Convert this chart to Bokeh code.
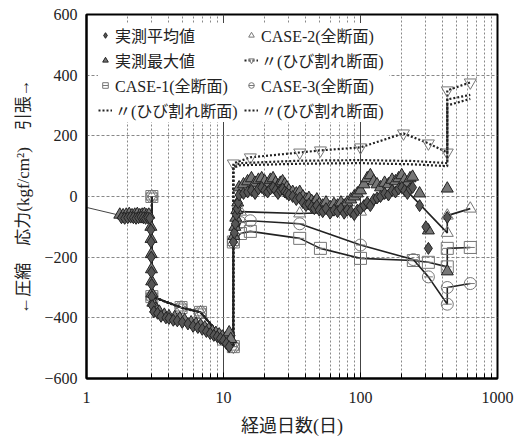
from bokeh.plotting import figure
from bokeh.models import FixedTicker, Legend, LegendItem, PrintfTickFormatter
from bokeh.embed import file_html
from bokeh.resources import INLINE

# ---------------- data ----------------
pre_x = [1.0, 1.75]
pre_y = [-36, -62]

avg_x = [1.8, 1.9, 2.0, 2.1, 2.2, 2.3, 2.4, 2.5, 2.6, 2.7, 2.8, 2.9,
         2.95, 2.96, 2.97, 2.98, 2.99, 3.0, 3.02,
         3.1, 3.3, 3.5, 3.8, 4.0, 4.3, 4.6, 5.0, 5.5, 6.0, 6.5, 7.0, 7.5, 8.0, 8.5, 9.0, 9.5, 10.0, 10.5, 11.0,
         11.8, 12.0, 12.2, 12.4, 12.6, 12.8,
         13, 14, 15, 16, 17, 18, 19, 20, 21, 22, 23, 24, 25, 26, 27, 28, 29, 30, 32, 34, 36, 38, 40, 42, 44,
         46, 48, 50, 53, 56, 60, 64, 68, 72, 76, 80, 85, 90, 95, 100, 106, 112, 118, 125, 132, 140, 150, 160,
         170, 180, 190, 200, 210, 220, 230, 240, 270, 300, 313, 430]
avg_y = [-70, -72, -70, -68, -70, -72, -70, -68, -70, -72, -70, -72,
         -110, -150, -200, -250, -290, -330, -360,
         -380, -385, -395, -400, -402, -408, -410, -415, -420, -428, -432, -438, -445, -452, -458, -462, -468, -475, -485, -495,
         -150, -120, -90, -60, -40, -20,
         5, 10, 15, 20, 10, 25, 30, 20, 15, 25, 30, 20, 10, 20, 25, 15, 10, 5, 0, -10, -5, -20, -30, -25, -35,
         -40, -30, -45, -50, -40, -55, -45, -50, -40, -55, -45, -50, -60, -45, -40, -30, -20, -30, -10, -5, 0, 10, 5,
         20, 15, 25, 30, 20, 10, 25, 30, -30, -100, -171, -69]

max_x = [1.75, 1.85, 1.95, 2.05, 2.15, 2.25, 2.35, 2.45, 2.55, 2.65, 2.75, 2.85,
         2.95, 2.96, 2.97, 2.98, 2.99, 3.0,
         3.05, 3.2, 3.4, 3.7, 4.0, 4.4, 4.8, 5.2, 5.8, 6.3, 6.8, 7.3, 7.8, 8.3, 8.8, 9.3, 9.8, 10.3, 11.0, 11.3,
         11.9, 12.1, 12.3, 12.5, 12.7,
         13, 14, 15, 16, 17, 18, 19, 20, 21, 22, 23, 24, 25, 26, 27, 28, 29, 30, 32, 34, 36, 38, 40, 42, 44,
         46, 48, 50, 53, 56, 60, 64, 68, 72, 76, 80, 85, 90, 95, 100, 106, 112, 118, 125, 132, 140, 150, 160,
         170, 180, 190, 200, 210, 220, 230, 240, 270, 313, 430, 430]
max_y = [-60, -62, -60, -58, -62, -60, -58, -62, -60, -58, -62, -60,
         -100, -140, -190, -240, -280, -320,
         -350, -370, -380, -390, -395, -398, -402, -408, -415, -420, -425, -432, -438, -445, -450, -455, -462, -468, -448, -470,
         -130, -100, -70, -45, -20,
         30, 40, 50, 60, 45, 55, 60, 50, 40, 55, 60, 45, 35, 45, 50, 40, 30, 20, 15, 10, 15, 0, -10, -5, -15,
         -20, -10, -25, -30, -20, -35, -25, -30, -20, -30, -20, -10, 0, 10, 20, 40, 60, 70, 50, 40, 30, 45, 40,
         55, 50, 60, 70, 55, 45, 60, 65, 10, -112, 26, -247]

c1_x = [3, 3, 4.9, 6.8, 10, 11.8, 11.8, 13.3, 15.7, 36, 51, 100, 243, 313, 430, 430, 633]
c1_y = [0, -330, -366, -382, -470, -495, -150, -122, -115, -138, -171, -204, -211, -217, -232, -171, -168]

c1c_x = [3, 3, 4.9, 6.8, 10, 11.8, 11.8, 13.3, 36, 100, 243, 430, 430, 633]
c1c_y = [0, -330, -366, -382, -470, -495, 100, 110, 118, 120, 117, 110, 320, 335]

c2_x = [3, 3, 4.9, 6.8, 10, 11.8, 11.8, 13.3, 36, 100, 206, 430, 430, 633]
c2_y = [0, -330, -366, -382, -470, -495, -150, -50, -56, -50, 30, -120, -63, -40]

c2c_x = [3, 3, 4.9, 6.8, 10, 11.8, 11.8, 15.7, 36, 51, 100, 206, 313, 430, 430, 633]
c2c_y = [0, -330, -366, -382, -470, -495, 109, 129, 145, 152, 162, 208, 175, 145, 350, 376]

c3_x = [3, 3, 4.9, 6.8, 10, 11.8, 11.8, 13.3, 15.7, 36, 100, 243, 313, 430, 430, 633]
c3_y = [0, -330, -366, -382, -470, -495, -150, -86, -80, -90, -160, -208, -265, -355, -300, -287]

c3c_x = [3, 3, 4.9, 6.8, 10, 11.8, 11.8, 13.3, 36, 100, 243, 430, 430, 633]
c3c_y = [0, -330, -366, -382, -470, -495, 95, 103, 108, 110, 106, 100, 300, 322]

x_ticks = [1, 10, 100, 1000]
y_ticks = [-600, -400, -200, 0, 200, 400, 600]

labels = ["実測平均値", "実測最大値", "CASE-1(全断面)", "〃(ひび割れ断面)",
          "CASE-2(全断面)", "〃(ひび割れ断面)", "CASE-3(全断面)", "〃(ひび割れ断面)"]

FONT = "'Liberation Serif', 'Noto Sans CJK JP'"

# ---------------- figure ----------------
p = figure(width=525, height=444, x_axis_type="log", x_range=(1, 1000), y_range=(-600, 600),
           output_backend="svg", toolbar_location=None,
           min_border_left=86, min_border_right=28, min_border_top=14, min_border_bottom=66)
p.background_fill_color = "white"
p.border_fill_color = "white"
p.outline_line_color = "black"
p.outline_line_width = 2

minor = [m * d for d in [1, 10, 100] for m in range(2, 10)]
p.xaxis.ticker = FixedTicker(ticks=x_ticks, minor_ticks=minor)
p.yaxis.ticker = FixedTicker(ticks=y_ticks)
p.xaxis.formatter = PrintfTickFormatter(format="%d")

for ax in (p.xaxis, p.yaxis):
    ax.axis_line_color = "black"
    ax.axis_line_width = 2
    ax.major_label_text_font = FONT
    ax.major_label_text_font_size = "16px"
    ax.major_label_text_color = "#222"
    ax.axis_label_text_font = FONT
    ax.axis_label_text_font_style = "normal"
    ax.axis_label_text_font_size = "17px"
    ax.axis_label_text_color = "#222"

p.xaxis.major_tick_in = 6
p.xaxis.major_tick_out = 0
p.xaxis.minor_tick_in = 5
p.xaxis.minor_tick_out = 0
p.xaxis.major_label_standoff = 13
p.xaxis.axis_label = "経過日数(日)"
p.xaxis.axis_label_text_font_size = "18px"
p.xaxis.axis_label_standoff = 10

p.yaxis.major_tick_in = 0
p.yaxis.major_tick_out = 0
p.yaxis.minor_tick_line_color = None
p.yaxis.major_label_standoff = 9
p.yaxis.axis_label = "←圧縮　応力(kgf/cm²)　引張→"
p.yaxis.axis_label_standoff = 8

p.xgrid.grid_line_color = "#444"
p.xgrid.grid_line_width = 1
p.xgrid.minor_grid_line_color = "#888"
p.xgrid.minor_grid_line_dash = "2 2"
p.ygrid.grid_line_color = "#888"
p.ygrid.grid_line_dash = "3 2"

# ---------------- glyphs ----------------
def calc_full(xs, ys, marker):
    ln = p.line(xs, ys, line_color="#222", line_width=1.6)
    mk = p.scatter(xs, ys, marker=marker, size=12, fill_color=None, line_color="#777", line_width=1)
    return [ln, mk]

def calc_crack(xs, ys, marker=None):
    ln = p.line(xs, ys, line_color="#222", line_width=2.2, line_dash="2 2")
    rs = [ln]
    if marker:
        rs.append(p.scatter(xs, ys, marker=marker, size=12, fill_color=None, line_color="#777", line_width=1))
    return rs

p.line(pre_x, pre_y, line_color="#444", line_width=1)

r_c1 = calc_full(c1_x, c1_y, "square")
r_c1 += [p.scatter(c1_x, c1_y, marker="dash", size=9, line_color="#777")]
r_c1c = calc_crack(c1c_x, c1c_y)
r_c2 = calc_full(c2_x, c2_y, "triangle")
r_c2c = calc_crack(c2c_x, c2c_y, "inverted_triangle")
r_c3 = calc_full(c3_x, c3_y, "circle")
r_c3 += [p.scatter(c3_x, c3_y, marker="dash", size=9, line_color="#777")]
r_c3c = calc_crack(c3c_x, c3c_y)

r_max = p.scatter(max_x, max_y, marker="triangle", size=12, fill_color="#777", line_color="#222", line_width=1)
r_avg = p.scatter(avg_x, avg_y, marker="diamond", size=12, fill_color="#555", line_color="#222", line_width=1)

items = [
    LegendItem(label=labels[0], renderers=[r_avg]),
    LegendItem(label=labels[1], renderers=[r_max]),
    LegendItem(label=labels[2], renderers=r_c1[1:]),
    LegendItem(label=labels[3], renderers=r_c1c),
    LegendItem(label=labels[4], renderers=r_c2[1:]),
    LegendItem(label=labels[5], renderers=r_c2c),
    LegendItem(label=labels[6], renderers=r_c3[1:]),
    LegendItem(label=labels[7], renderers=r_c3c),
]
legend = Legend(items=items, location=(12, 256), nrows=4,
                label_text_font=FONT, label_text_font_size="16px", label_text_color="#222",
                background_fill_color="white", background_fill_alpha=1.0,
                border_line_color=None, glyph_width=14, glyph_height=14,
                spacing=1, padding=10, margin=0, label_standoff=3, label_height=19,
                label_width=128)
p.add_layout(legend, "center")

open("out.html", "w").write(file_html(p, INLINE))
